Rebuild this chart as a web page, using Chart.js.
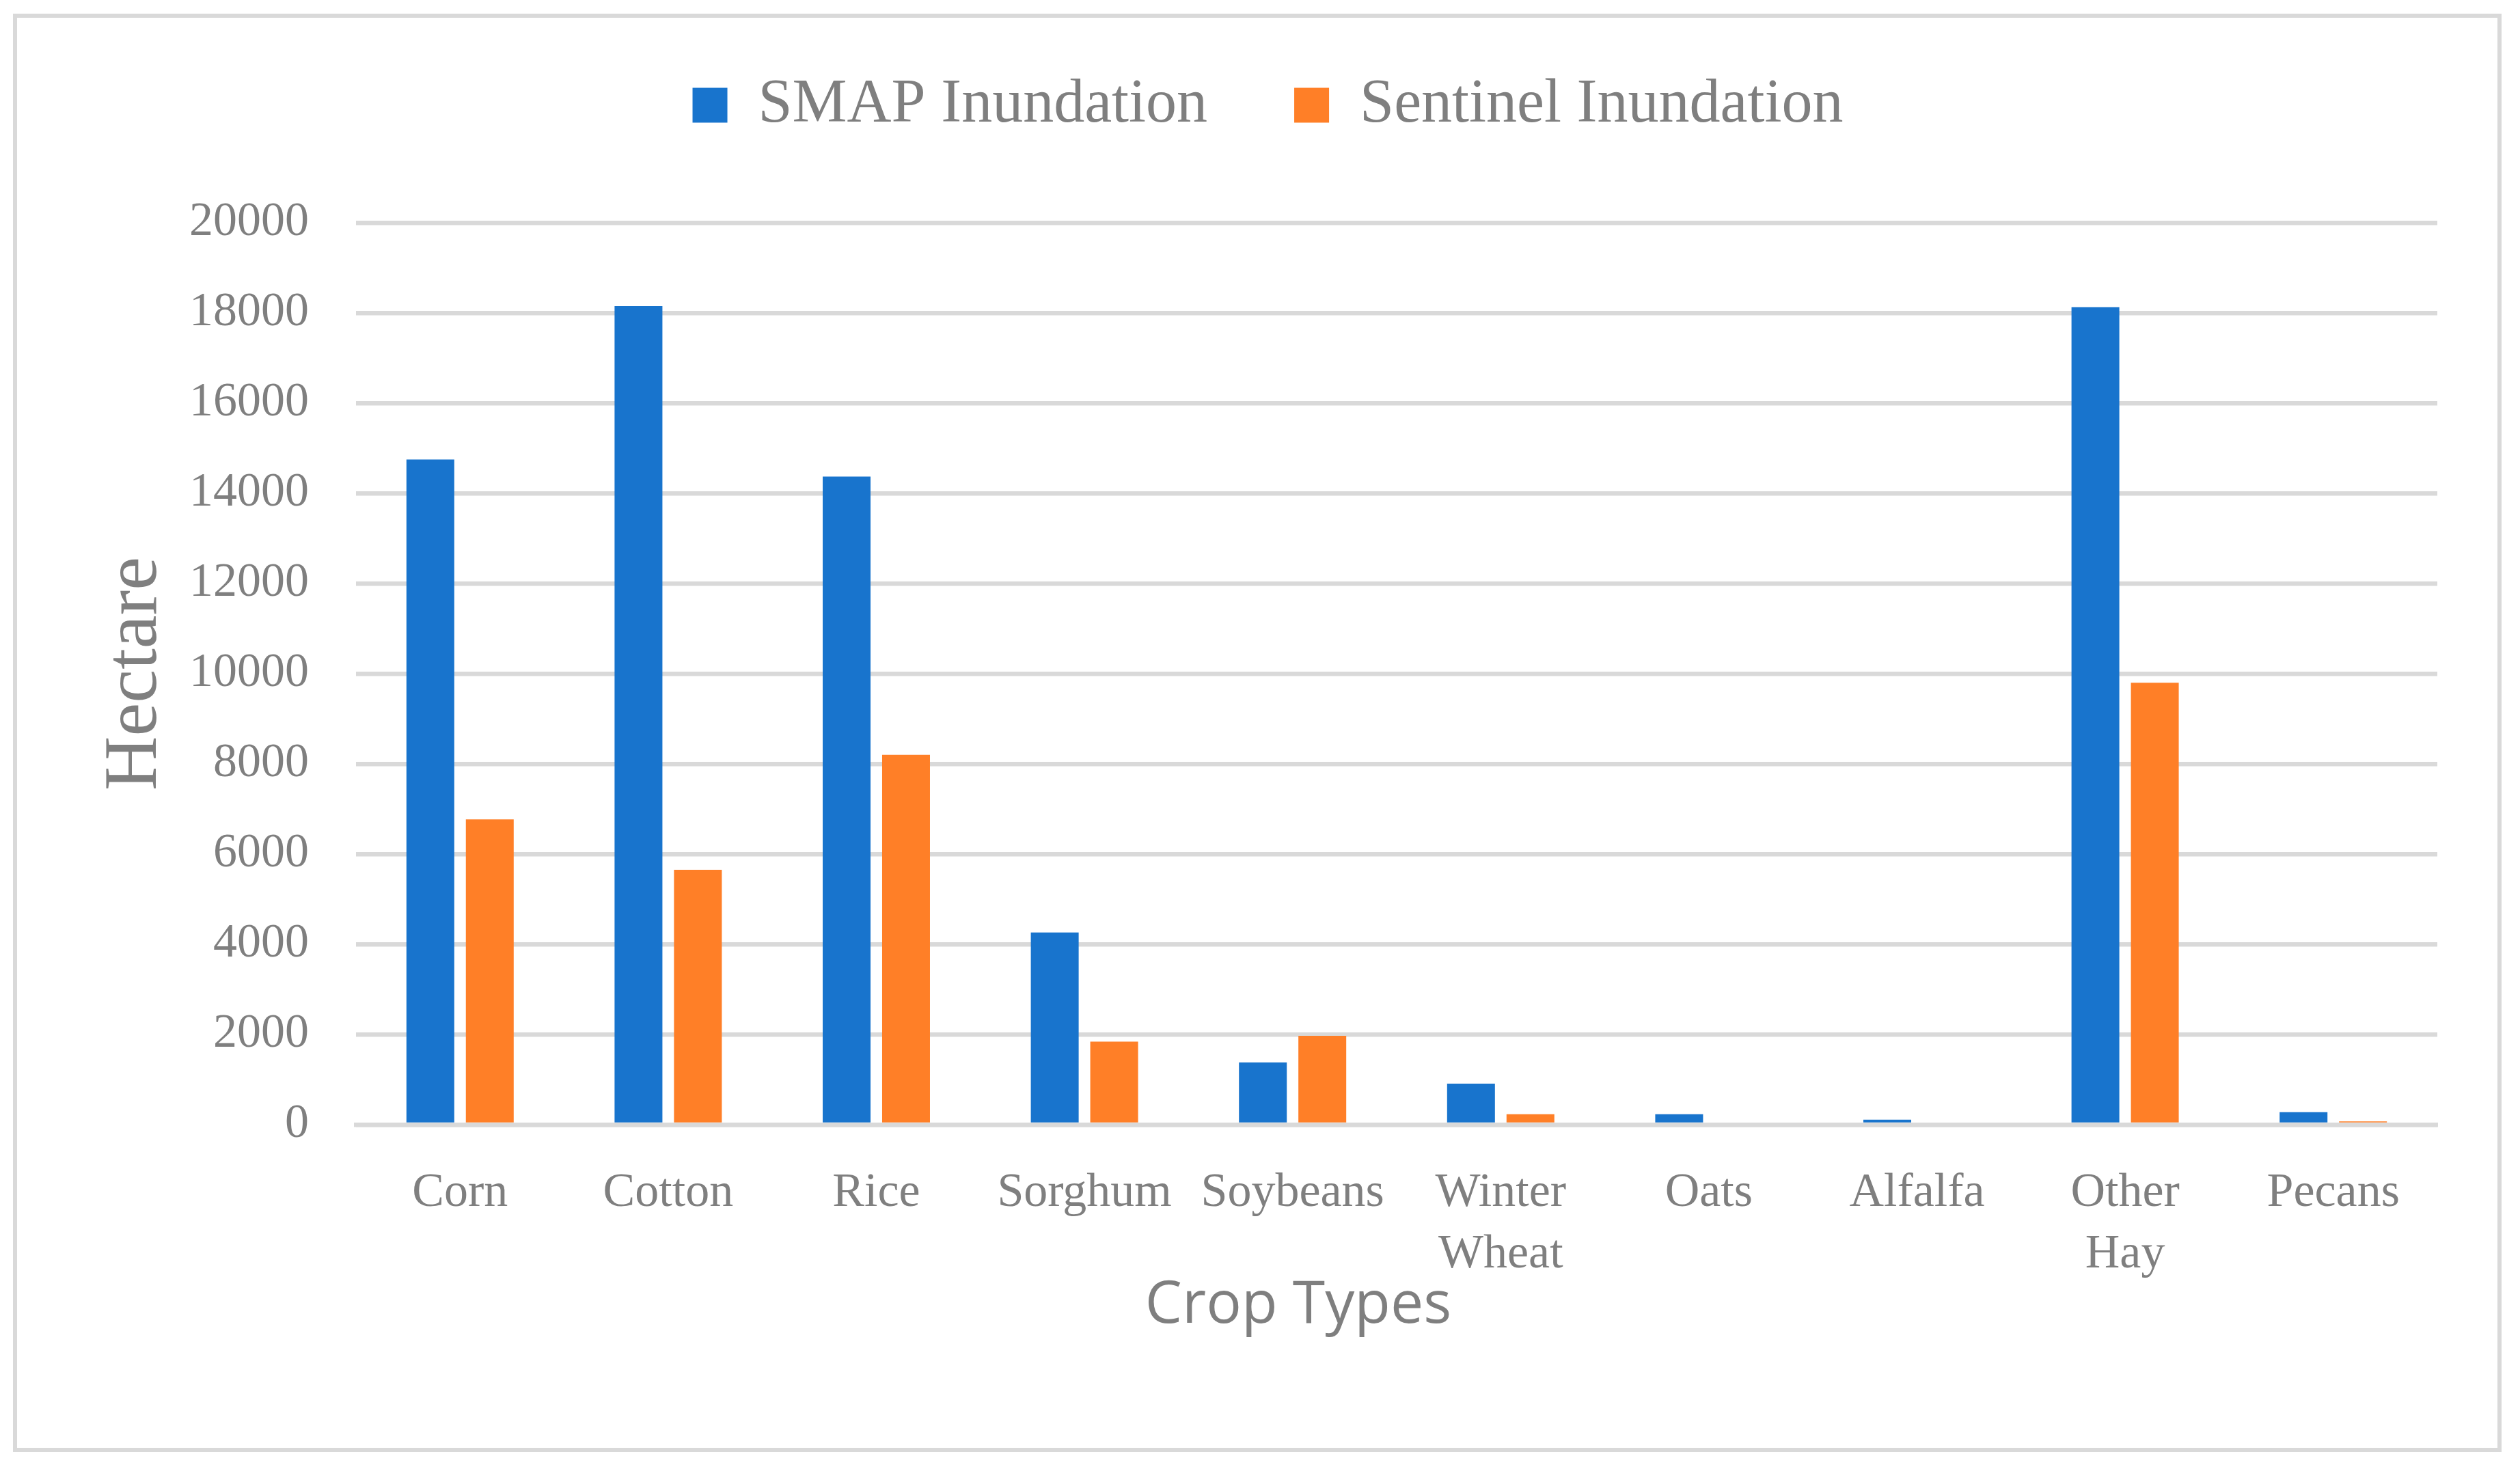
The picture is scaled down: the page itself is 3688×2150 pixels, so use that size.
<!DOCTYPE html>
<html>
<head>
<meta charset="utf-8">
<script src="https://cdn.jsdelivr.net/npm/chart.js@4.4.1/dist/chart.umd.min.js"></script>
<style>
  html, body { margin: 0; padding: 0; background: #fff; }
  #frame {
    position: absolute; left: 19px; top: 20px;
    width: 3642px; height: 2105px;
    box-sizing: border-box; border: 6px solid #d9d9d9;
  }
  #frame canvas { display: block; }
</style>
</head>
<body>
<div id="frame"><canvas id="cropChart"></canvas></div>
<script>
// Inundated area per crop type (hectare)
const crops = ['Corn', 'Cotton', 'Rice', 'Sorghum', 'Soybeans', ['Winter', 'Wheat'], 'Oats', 'Alfalfa', ['Other', 'Hay'], 'Pecans'];
const smapValues = [14750, 18150, 14370, 4260, 1380, 910, 230, 110, 18130, 275];
const sentinelValues = [6770, 5650, 8200, 1840, 1970, 230, 0, 0, 9800, 70];
const seriesNames = ['SMAP Inundation', 'Sentinel Inundation'];

const serif = "'Liberation Serif', 'Times New Roman', serif";
Chart.defaults.color = '#7f7f7f';
Chart.defaults.font.family = serif;

// extra room under the legend
const legendSpacer = {
    id: 'legendSpacer',
    beforeInit(chart) {
        const fit = chart.legend.fit;
        chart.legend.fit = function () {
            fit.call(this);
            this.height += 117;
        };
    }
};

// axis title under the category labels
const cropTitle = {
    id: 'cropTitle',
    afterDraw(chart) {
        const ctx = chart.ctx;
        ctx.save();
        ctx.font = "86px 'Open Sans', sans-serif";
        ctx.fillStyle = '#7f7f7f';
        ctx.textAlign = 'center';
        ctx.textBaseline = 'alphabetic';
        ctx.fillText('Crop Types', 1875, 1910);
        ctx.restore();
    }
};

const ctx = document.getElementById('cropChart');
const cropChart = new Chart(ctx, {
    type: 'bar',
    data: {
        labels: crops,
        datasets: [{
            label: seriesNames[0],
            data: smapValues,
            backgroundColor: '#1874cd',
            categoryPercentage: 0.571,
            barPercentage: 0.805
        }, {
            label: seriesNames[1],
            data: sentinelValues,
            backgroundColor: '#ff7f27',
            categoryPercentage: 0.571,
            barPercentage: 0.805
        }]
    },
    options: {
        responsive: true,
        maintainAspectRatio: false,
        devicePixelRatio: 1,
        animation: false,
        layout: {
            padding: { top: -44, left: 119, right: 88, bottom: 181 }
        },
        plugins: {
            legend: {
                position: 'top',
                labels: {
                    boxWidth: 51,
                    boxHeight: 51,
                    padding: 127,
                    font: { size: 90, family: serif }
                }
            },
            tooltip: { enabled: false }
        },
        scales: {
            x: {
                z: 1,
                grid: { display: false, drawTicks: false },
                border: { display: true, color: '#d9d9d9', width: 6.5 },
                ticks: {
                    autoSkip: false,
                    maxRotation: 0,
                    padding: 56,
                    font: { size: 70, lineHeight: 1.286 }
                }
            },
            y: {
                min: 0,
                max: 20000,
                grid: { color: '#d9d9d9', lineWidth: 6.5, drawTicks: false },
                border: { display: false },
                ticks: {
                    stepSize: 2000,
                    padding: 69,
                    font: { size: 70 },
                    callback: (value) => String(value)
                },
                title: {
                    display: true,
                    text: 'Hectare',
                    font: { size: 110, lineHeight: 1.0 },
                    // tick padding is reserved twice, so pull the title box in
                    padding: { top: 0, bottom: -46 }
                }
            }
        }
    },
    plugins: [legendSpacer, cropTitle]
});
</script>
</body>
</html>
